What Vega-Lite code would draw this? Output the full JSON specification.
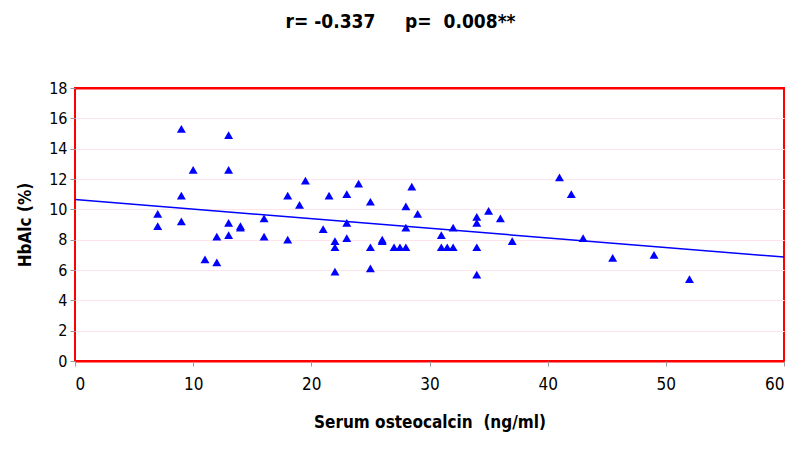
{
  "$schema": "https://vega.github.io/schema/vega-lite/v6.json",
  "autosize": "none",
  "width": 709,
  "height": 273,
  "padding": {"left": 75, "top": 88, "right": 16, "bottom": 100},
  "background": "white",
  "title": {
    "text": "r= -0.337\u00a0\u00a0\u00a0\u00a0\u00a0p=\u00a0\u00a00.008**",
    "font": "Liberation Sans Narrow, DejaVu Sans Condensed, Liberation Sans",
    "fontSize": 19,
    "fontWeight": "bold",
    "color": "black",
    "anchor": "middle",
    "dx": -29,
    "offset": 48
  },
  "config": {
    "view": {"stroke": "#ff0000", "strokeWidth": 2},
    "axis": {
      "labelFont": "Liberation Sans Narrow, DejaVu Sans Condensed, Liberation Sans",
      "titleFont": "Liberation Sans Narrow, DejaVu Sans Condensed, Liberation Sans",
      "labelFontSize": 17,
      "titleFontSize": 17,
      "titleFontWeight": "bold",
      "labelColor": "black",
      "titleColor": "black",
      "tickColor": "#999999",
      "labelOverlap": false,
      "domain": false
    }
  },
  "datasets": {
    "points": [
      {"osteocalcin": 7, "hba1c": 9.7},
      {"osteocalcin": 7, "hba1c": 8.9},
      {"osteocalcin": 9, "hba1c": 15.3},
      {"osteocalcin": 9, "hba1c": 10.9},
      {"osteocalcin": 9, "hba1c": 9.2},
      {"osteocalcin": 10, "hba1c": 12.6},
      {"osteocalcin": 11, "hba1c": 6.7},
      {"osteocalcin": 12, "hba1c": 6.5},
      {"osteocalcin": 12, "hba1c": 8.2},
      {"osteocalcin": 13, "hba1c": 14.9},
      {"osteocalcin": 13, "hba1c": 12.6},
      {"osteocalcin": 13, "hba1c": 9.1},
      {"osteocalcin": 13, "hba1c": 8.3},
      {"osteocalcin": 14, "hba1c": 8.9},
      {"osteocalcin": 14, "hba1c": 8.8},
      {"osteocalcin": 16, "hba1c": 9.4},
      {"osteocalcin": 16, "hba1c": 8.2},
      {"osteocalcin": 18, "hba1c": 10.9},
      {"osteocalcin": 18, "hba1c": 8.0},
      {"osteocalcin": 19, "hba1c": 10.3},
      {"osteocalcin": 19.5, "hba1c": 11.9},
      {"osteocalcin": 21, "hba1c": 8.7},
      {"osteocalcin": 21.5, "hba1c": 10.9},
      {"osteocalcin": 22, "hba1c": 7.9},
      {"osteocalcin": 22, "hba1c": 7.5},
      {"osteocalcin": 22, "hba1c": 5.9},
      {"osteocalcin": 23, "hba1c": 11.0},
      {"osteocalcin": 23, "hba1c": 9.1},
      {"osteocalcin": 23, "hba1c": 8.1},
      {"osteocalcin": 24, "hba1c": 11.7},
      {"osteocalcin": 25, "hba1c": 10.5},
      {"osteocalcin": 25, "hba1c": 7.5},
      {"osteocalcin": 25, "hba1c": 6.1},
      {"osteocalcin": 26, "hba1c": 8.0},
      {"osteocalcin": 26, "hba1c": 7.9},
      {"osteocalcin": 27, "hba1c": 7.5},
      {"osteocalcin": 27.5, "hba1c": 7.5},
      {"osteocalcin": 28, "hba1c": 7.5},
      {"osteocalcin": 28, "hba1c": 10.2},
      {"osteocalcin": 28, "hba1c": 8.8},
      {"osteocalcin": 28.5, "hba1c": 11.5},
      {"osteocalcin": 29, "hba1c": 9.7},
      {"osteocalcin": 31, "hba1c": 8.3},
      {"osteocalcin": 31, "hba1c": 7.5},
      {"osteocalcin": 31.5, "hba1c": 7.5},
      {"osteocalcin": 32, "hba1c": 7.5},
      {"osteocalcin": 32, "hba1c": 8.8},
      {"osteocalcin": 34, "hba1c": 9.5},
      {"osteocalcin": 34, "hba1c": 9.1},
      {"osteocalcin": 34, "hba1c": 7.5},
      {"osteocalcin": 34, "hba1c": 5.7},
      {"osteocalcin": 35, "hba1c": 9.9},
      {"osteocalcin": 36, "hba1c": 9.4},
      {"osteocalcin": 37, "hba1c": 7.9},
      {"osteocalcin": 41, "hba1c": 12.1},
      {"osteocalcin": 42, "hba1c": 11.0},
      {"osteocalcin": 43, "hba1c": 8.1},
      {"osteocalcin": 45.5, "hba1c": 6.8},
      {"osteocalcin": 49, "hba1c": 7.0},
      {"osteocalcin": 52, "hba1c": 5.4}
    ],
    "fit": [
      {"osteocalcin": 0, "hba1c": 10.65},
      {"osteocalcin": 60, "hba1c": 6.85}
    ]
  },
  "encoding": {
    "x": {
      "field": "osteocalcin", "type": "quantitative",
      "scale": {"domain": [0, 60], "nice": false},
      "axis": {"title": "Serum osteocalcin\u00a0\u00a0(ng/ml)", "values": [0, 10, 20, 30, 40, 50, 60], "grid": false, "tickSize": 5, "labelPadding": 10, "titlePadding": 22, "labelOverlap": false}
    },
    "y": {
      "field": "hba1c", "type": "quantitative",
      "scale": {"domain": [0, 18], "nice": false},
      "axis": {
        "title": "HbAlc (%)",
        "values": [0, 2, 4, 6, 8, 10, 12, 14, 16, 18],
        "grid": true,
        "gridColor": {"condition": {"test": "datum.value === 0 || datum.value === 18", "value": "#ff0000"}, "value": "#ffe4ee"},
        "gridWidth": {"condition": {"test": "datum.value === 0 || datum.value === 18", "value": 2}, "value": 1},
        "tickSize": 5, "labelPadding": 3, "titlePadding": 14, "labelOverlap": false, "labelFontSize": 16
      }
    }
  },
  "layer": [
    {
      "data": {"name": "points"},
      "mark": {"type": "point", "shape": "triangle-up", "filled": true, "color": "#0000ff", "size": 80, "opacity": 1}
    },
    {
      "data": {"name": "fit"},
      "mark": {"type": "line", "color": "#0000ff", "strokeWidth": 1.5}
    }
  ]
}
